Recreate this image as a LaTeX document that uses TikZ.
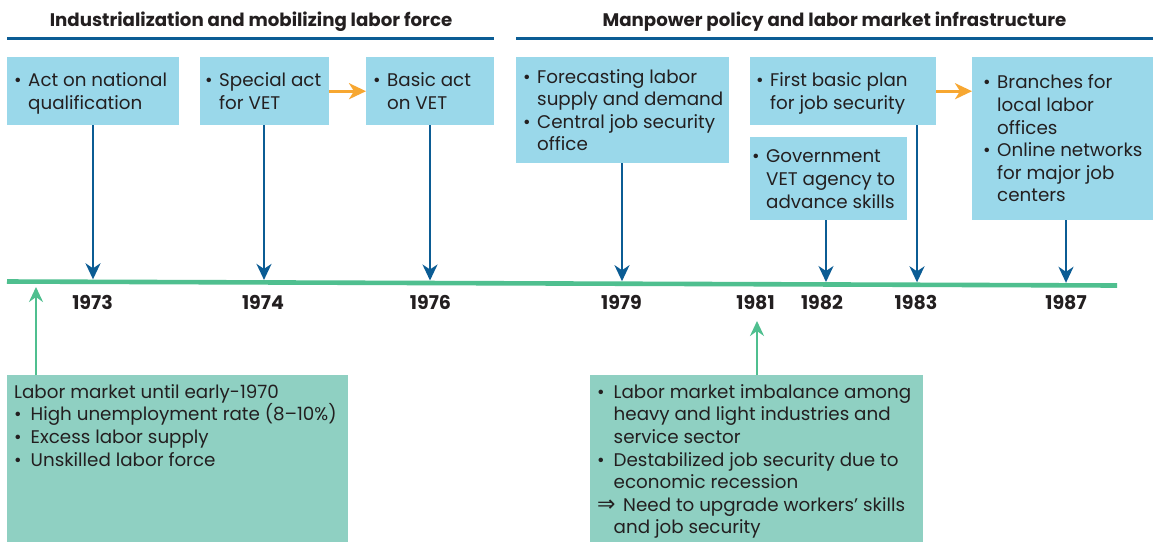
\documentclass[tikz,border=0pt]{standalone}
\usepackage{fontspec}
\setmainfont{Poppins}
\newfontfamily\djv{DejaVu Sans}
\usetikzlibrary{arrows.meta}
\definecolor{boxblue}{HTML}{9AD8EA}
\definecolor{boxteal}{HTML}{8FD0C2}
\definecolor{tlgreen}{HTML}{4FBF8F}
\definecolor{darkblue}{HTML}{0B5C94}
\definecolor{arrorange}{HTML}{F7A731}
\definecolor{txtgray}{HTML}{231F20}
\newlength\bulw
\newcommand\bl[1]{\par\noindent\hangindent=\bulw\hangafter=1\makebox[\bulw][l]{•}\mbox{#1}}
\newcommand\nl[1]{\newline\mbox{#1}}
\newcommand\hs{\rule{0pt}{18.4pt}}
\newcommand\ds{\rule[-5pt]{0pt}{5pt}}
\newcommand\bodyfont{\fontsize{18.3pt}{22.6pt}\selectfont\setlength\bulw{14pt}}
\newcommand\tb[2]{\parbox{#1}{\raggedright#2}}
\begin{document}
\begin{tikzpicture}[x=1pt,y=-1pt,
  every node/.style={text=txtgray},
  topbox/.style={fill=boxblue, anchor=north west, inner ysep=0pt, inner xsep=#1, font=\bodyfont},
  topbox/.default=7pt,
  cbox/.style={fill=boxteal, anchor=north west, inner ysep=0pt, inner xsep=7pt, font=\bodyfont},
  head/.style={anchor=base, font=\bfseries\fontsize{18.2pt}{20pt}\selectfont},
  year/.style={anchor=center, font=\bfseries\fontsize{19pt}{20pt}\selectfont},
  hline/.style={draw=darkblue, line width=3.6pt},
  timeline/.style={draw=tlgreen, line width=4.6pt},
  barrow/.style={draw=darkblue, line width=2.2pt, -{Stealth[length=16pt,width=15pt,inset=5pt]}},
  garrow/.style={draw=tlgreen, line width=2.2pt, -{Stealth[length=15pt,width=14pt,inset=5pt]}},
  oarrow/.style={draw=arrorange, line width=2.6pt, -{Stealth[length=17pt,width=16pt,inset=5pt]}}
]
\fill[white] (0,0) rectangle (1153,542);
\useasboundingbox (0,0) rectangle (1153,542);

% headings
\node[head] (h1) at (251,26) {Industrialization and mobilizing labor force};
\node[head] (h2) at (834.5,26) {Manpower policy and labor market infrastructure};
\coordinate (h1a) at (7,38.5);
\coordinate (h1b) at (494,38.5);
\coordinate (h2a) at (516,38.5);
\coordinate (h2b) at (1153,38.5);
\draw[hline] (h1a) -- (h1b);
\draw[hline] (h2a) -- (h2b);

% top boxes
\node[topbox, minimum height=68pt] (b1) at (7,57)
  {\tb{158pt}{\bl{\hs Act on national}\nl{qualification\ds}}};
\node[topbox=5pt, minimum height=68pt] (b2) at (200,57)
  {\tb{119pt}{\bl{\hs Special act}\nl{for VET\ds}}};
\node[topbox, minimum height=68pt] (b3) at (366,57)
  {\tb{114pt}{\bl{\hs Basic act}\nl{on VET\ds}}};
\node[topbox, minimum height=106pt] (b4) at (516,57)
  {\tb{199pt}{\bl{\hs Forecasting labor}\nl{supply and demand}\bl{Central job security}\nl{office\ds}}};
\node[topbox=6pt, minimum height=68pt] (b5) at (750,57)
  {\tb{174pt}{\bl{\hs First basic plan}\nl{for job security\ds}}};
\node[topbox=2pt, minimum height=83pt] (b6) at (750,137)
  {\tb{153pt}{\bl{\hs Government}\nl{VET agency to}\nl{advance skills\ds}}};
\node[topbox=11pt, minimum height=163pt] (b7) at (972,57)
  {\tb{159pt}{\bl{\hs Branches for}\nl{local labor}\nl{offices}\bl{Online networks}\nl{for major job}\nl{centers\ds}}};

% orange arrows
\draw[oarrow] (b2.east) -- (b3.west);
\draw[oarrow] (b5.east) -- (b5.east -| b7.west);

% timeline
\coordinate (tlA) at (7,281.5);
\coordinate (tlB) at (1117,285.5);
\draw[timeline] (tlA) -- (tlB);

% arrow tips on timeline
\coordinate (t73) at (93,279.3);
\coordinate (t74) at (264,279.9);
\coordinate (t76) at (430,280.5);
\coordinate (t79) at (622,281.2);
\coordinate (t82) at (826,282);
\coordinate (t83) at (917,282.3);
\coordinate (t87) at (1066,282.8);
\draw[barrow] (b1.south -| t73) -- (t73);
\draw[barrow] (b2.south -| t74) -- (t74);
\draw[barrow] (b3.south -| t76) -- (t76);
\draw[barrow] (b4.south -| t79) -- (t79);
\draw[barrow] (b6.south -| t82) -- (t82);
\draw[barrow] (b5.south -| t83) -- (t83);
\draw[barrow] (b7.south -| t87) -- (t87);

% years
\node[year] (y73) at (92.5,302.5) {1973};
\node[year] (y74) at (263,302.5) {1974};
\node[year] (y76) at (430.5,302.5) {1976};
\node[year] (y79) at (621.5,302.5) {1979};
\node[year] (y81) at (755.5,302.5) {1981};
\node[year] (y82) at (822,302.5) {1982};
\node[year] (y83) at (916,302.5) {1983};
\node[year] (y87) at (1066,302.5) {1987};

% bottom boxes
\node[cbox] (c1) at (7,375)
  {\parbox[c][167pt][t]{327pt}{\setlength\bulw{16.5pt}\noindent\rule{0pt}{23pt}Labor market until early-1970
   \bl{High unemployment rate (8–10\%)}
   \bl{Excess labor supply}
   \bl{Unskilled labor force}}};
\node[cbox] (c2) at (590,375)
  {\parbox[c][167pt][t]{319pt}{\setlength\bulw{16.5pt}%
   \bl{\rule{0pt}{23pt}Labor market imbalance among}\nl{heavy and light industries and}\nl{service sector}
   \bl{Destabilized job security due to}\nl{economic recession}
   \par\noindent\hangindent=\bulw\hangafter=1\makebox[26pt][l]{\djv\fontsize{22pt}{22pt}\selectfont ⇒}\mbox{Need to upgrade workers’ skills}\nl{and job security}}};

% green arrows
\coordinate (g70) at (36,287);
\coordinate (g81) at (757,321);
\draw[garrow] (c1.north -| g70) -- (g70);
\draw[garrow] (c2.north -| g81) -- (g81);
\end{tikzpicture}
\end{document}
